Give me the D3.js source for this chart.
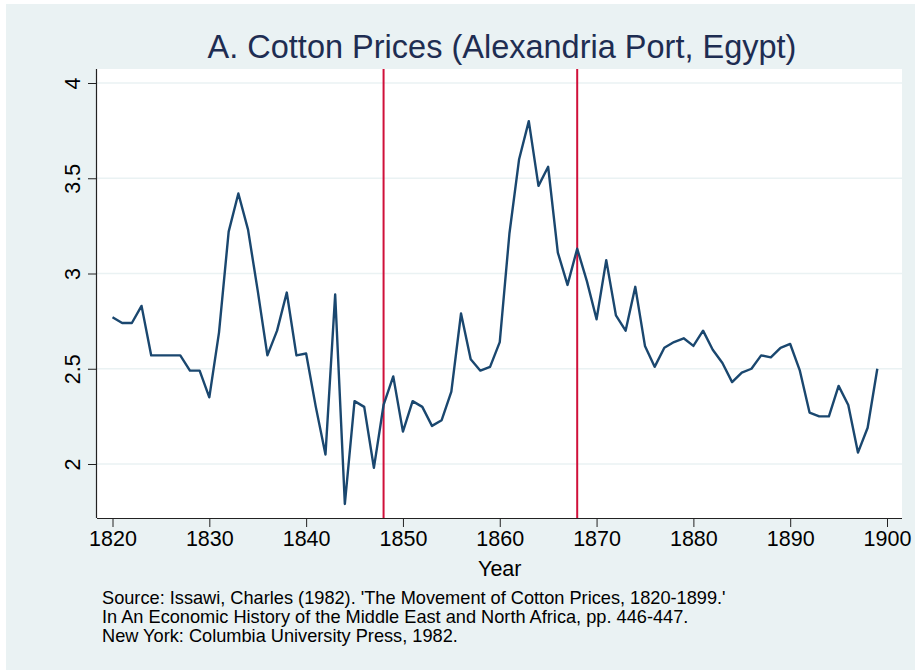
<!DOCTYPE html>
<html>
<head>
<meta charset="utf-8">
<script src="https://cdn.jsdelivr.net/npm/d3@7"></script>
<style>
  body { margin: 0; background: #fff; }
  svg text { font-family: "Liberation Sans", Arial, sans-serif; }
</style>
</head>
<body>
<div id="chart"></div>
<script>
// years 1820-1899, price
var years = d3.range(1820, 1900);
var prices = [
  2.77, 2.74, 2.74, 2.83, 2.57, 2.57, 2.57, 2.57, 2.49, 2.49,
  2.35, 2.69, 3.22, 3.42, 3.23, 2.91, 2.57, 2.70, 2.90, 2.57,
  2.58, 2.30, 2.05, 2.89, 1.79, 2.33, 2.30, 1.98, 2.31, 2.46,
  2.17, 2.33, 2.30, 2.20, 2.23, 2.38, 2.79, 2.55, 2.49, 2.51,
  2.64, 3.21, 3.60, 3.80, 3.46, 3.56, 3.11, 2.94, 3.13, 2.96,
  2.76, 3.07, 2.78, 2.70, 2.93, 2.62, 2.51, 2.61, 2.64, 2.66,
  2.62, 2.70, 2.60, 2.53, 2.43, 2.48, 2.50, 2.57, 2.56, 2.61,
  2.63, 2.49, 2.27, 2.25, 2.25, 2.41, 2.31, 2.06, 2.19, 2.50
];
var xTicks = [1820, 1830, 1840, 1850, 1860, 1870, 1880, 1890, 1900];
var yTicks = [2, 2.5, 3, 3.5, 4];
var markYears = [1848, 1868];
var title = "A. Cotton Prices (Alexandria Port, Egypt)";
var xTitle = "Year";
var note = [
  "Source: Issawi, Charles (1982). 'The Movement of Cotton Prices, 1820-1899.'",
  "In An Economic History of the Middle East and North Africa, pp. 446-447.",
  "New York: Columbia University Press, 1982."
];

var W = 915, H = 670;
var plot = { left: 97, right: 902, top: 69, bottom: 518 };

var svg = d3.select("#chart").append("svg")
  .attr("width", W).attr("height", H);

// outer background
svg.append("rect")
  .attr("x", 6).attr("y", 4)
  .attr("width", W - 6).attr("height", H - 4)
  .attr("fill", "#eaf2f3");

svg.append("rect")
  .attr("x", plot.left).attr("y", plot.top)
  .attr("width", plot.right - plot.left).attr("height", plot.bottom - plot.top)
  .attr("fill", "#fff");

var x = d3.scaleLinear().domain([1820, 1900]).range([112.5, 887]);
var y = d3.scaleLinear().domain([2, 4]).range([464, 83]);

// grid
svg.append("g").selectAll("line")
  .data(yTicks).enter().append("line")
  .attr("x1", plot.left).attr("x2", plot.right)
  .attr("y1", function (d) { return y(d); })
  .attr("y2", function (d) { return y(d); })
  .attr("stroke", "#eaf2f3")
  .attr("stroke-width", 1.5);

// vertical markers
svg.append("g").selectAll("line")
  .data(markYears).enter().append("line")
  .attr("x1", function (d) { return x(d); })
  .attr("x2", function (d) { return x(d); })
  .attr("y1", plot.top).attr("y2", plot.bottom)
  .attr("stroke", "#d0103a")
  .attr("stroke-width", 2);

// series
var line = d3.line()
  .x(function (d, i) { return x(years[i]); })
  .y(function (d) { return y(d); });

svg.append("path")
  .datum(prices)
  .attr("d", line)
  .attr("fill", "none")
  .attr("stroke", "#1a476f")
  .attr("stroke-width", 2.4)
  .attr("stroke-linejoin", "round");

// x axis
var xAxis = d3.axisBottom(x).tickValues(xTicks).tickFormat(d3.format("d"))
  .tickSize(9).tickSizeOuter(0).tickPadding(4);
var gx = svg.append("g")
  .attr("transform", "translate(0," + plot.bottom + ")")
  .call(xAxis);
gx.select(".domain").attr("d", "M" + plot.left + ",0.5H" + plot.right)
  .attr("stroke", "#222").attr("stroke-width", 1.2);
gx.selectAll(".tick line").attr("stroke", "#222");
gx.selectAll(".tick text")
  .attr("font-size", 21.5).attr("fill", "#000")
  .attr("font-family", "Liberation Sans, Arial, sans-serif");

// y axis
var yAxis = d3.axisLeft(y).tickValues(yTicks).tickFormat(d3.format("~g"))
  .tickSize(9).tickSizeOuter(0).tickPadding(4);
var gy = svg.append("g")
  .attr("transform", "translate(" + plot.left + ",0)")
  .call(yAxis);
gy.select(".domain").attr("d", "M-0.5," + plot.top + "V" + plot.bottom)
  .attr("stroke", "#222").attr("stroke-width", 1.2);
gy.selectAll(".tick line").attr("stroke", "#222");
gy.selectAll(".tick text")
  .attr("font-size", 21.5).attr("fill", "#000")
  .attr("font-family", "Liberation Sans, Arial, sans-serif")
  .attr("text-anchor", "middle")
  .attr("x", 0).attr("dy", 0)
  .attr("transform", "translate(-17,0) rotate(-90)");

// titles
svg.append("text")
  .attr("x", 502).attr("y", 58)
  .attr("text-anchor", "middle")
  .attr("font-size", 32.5)
  .attr("fill", "#1e2d52")
  .text(title);

svg.append("text")
  .attr("x", x(1860)).attr("y", 576)
  .attr("text-anchor", "middle")
  .attr("font-size", 21.5)
  .attr("fill", "#000")
  .text(xTitle);

svg.append("g").selectAll("text")
  .data(note).enter().append("text")
  .attr("x", 102)
  .attr("y", function (d, i) { return 604 + i * 19; })
  .attr("font-size", 18.2)
  .attr("fill", "#000")
  .text(function (d) { return d; });
</script>
</body>
</html>
